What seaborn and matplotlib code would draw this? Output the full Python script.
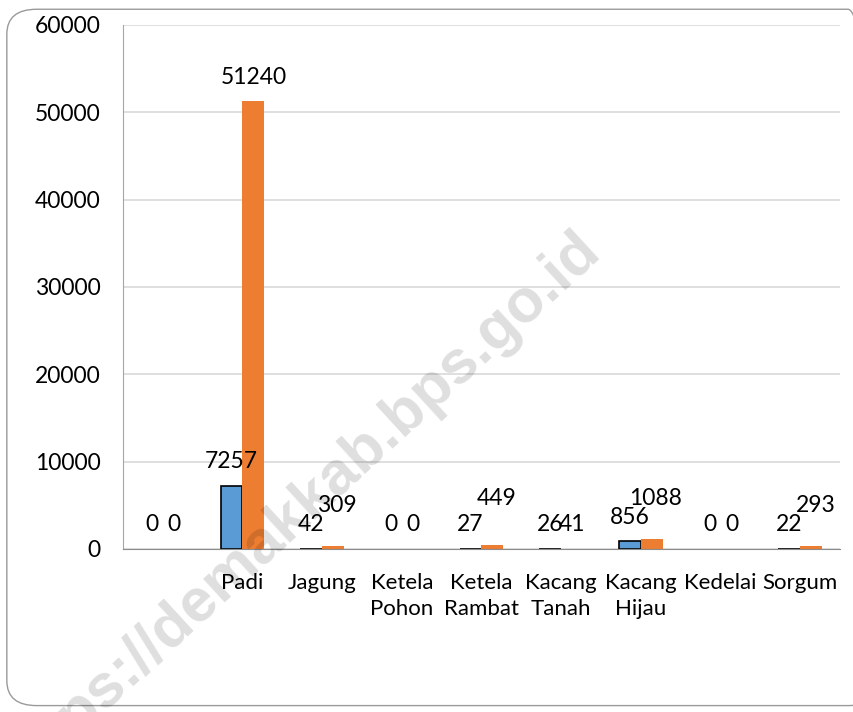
import pandas as pd
import seaborn as sns
import matplotlib.pyplot as plt
from matplotlib.patches import FancyBboxPatch

# Data
categories = [' ', 'Padi', 'Jagung', 'Ketela\nPohon', 'Ketela\nRambat',
              'Kacang\nTanah', 'Kacang\nHijau', 'Kedelai', 'Sorgum']
luas_panen = [0, 7257, 42, 0, 27, 26, 856, 0, 22]
produksi = [0, 51240, 309, 0, 449, 41, 1088, 0, 293]
y_ticks = [0, 10000, 20000, 30000, 40000, 50000, 60000]

# extra lift (points) Excel gave some of the orange labels
orange_lift = [0, 0, 12, 0, 16, 0, 12, 0, 12]

df = pd.DataFrame({
    'Komoditas': categories * 2,
    'Nilai': luas_panen + produksi,
    'Seri': ['Luas Panen'] * len(categories) + ['Produksi'] * len(categories),
})

sns.set_style('white')
plt.rcParams['font.family'] = ['Lato', 'DejaVu Sans']
FS = 16.5

fig = plt.figure(figsize=(8.54, 7.12), dpi=100)
ax = fig.add_axes([0.144, 0.229, 0.8396, 0.736])

sns.barplot(data=df, x='Komoditas', y='Nilai', hue='Seri', order=categories,
            palette=['#5B9BD5', '#ED7D31'], saturation=1, width=0.55, gap=0,
            legend=False, ax=ax, zorder=3)

# black outline on the blue bars (skip the empty ones)
for bar, v in zip(ax.containers[0], luas_panen):
    if v > 0:
        bar.set_edgecolor('black')
        bar.set_linewidth(1.2)
    else:
        bar.set_linewidth(0)
for bar in ax.containers[1]:
    bar.set_linewidth(0)

# data labels
for bar, v in zip(ax.containers[0], luas_panen):
    ax.annotate(str(v), (bar.get_x() + bar.get_width() / 2, v),
                xytext=(0, 10), textcoords='offset points',
                ha='center', va='bottom', fontsize=FS, color='black')
for bar, v, lift in zip(ax.containers[1], produksi, orange_lift):
    ax.annotate(str(v), (bar.get_x() + bar.get_width() / 2, v),
                xytext=(3 if lift else 0, 10 + lift), textcoords='offset points',
                ha='center', va='bottom', fontsize=FS, color='black')

ax.set_ylim(0, 60000)
ax.set_xlim(-0.5, len(categories) - 0.5)
ax.set_yticks(y_ticks)
ax.set_yticklabels([str(t) for t in y_ticks])
ax.set_xlabel('')
ax.set_ylabel('')
ax.tick_params(axis='y', length=0, pad=16, labelsize=FS, labelcolor='black')
ax.tick_params(axis='x', length=0, pad=17, labelsize=16, labelcolor='black')
for lbl in ax.get_xticklabels():
    lbl.set_linespacing(1.4)

ax.grid(axis='y', color='#D9D9D9', linewidth=1.2, zorder=0)
ax.set_axisbelow(True)
sns.despine(ax=ax, top=True, right=True)
ax.spines['left'].set_color('#A6A6A6')
ax.spines['bottom'].set_color('#8C8C8C')
ax.spines['bottom'].set_zorder(4)

# rounded chart border
border = FancyBboxPatch((0.008, 0.009), 1.02, 0.978,
                        boxstyle='round,pad=0,rounding_size=0.035',
                        transform=fig.transFigure, facecolor='none',
                        edgecolor='#9A9A9A', linewidth=1.0, zorder=0)
fig.patches.append(border)

# watermark
fig.text(0.352, 0.285, 'https://demakkab.bps.go.id', rotation=42.5,
         rotation_mode='anchor', ha='center', va='center',
         fontsize=44, fontweight='bold', family='Liberation Sans',
         color='black', alpha=0.13, zorder=10)

plt.savefig('out.png', dpi=100)
